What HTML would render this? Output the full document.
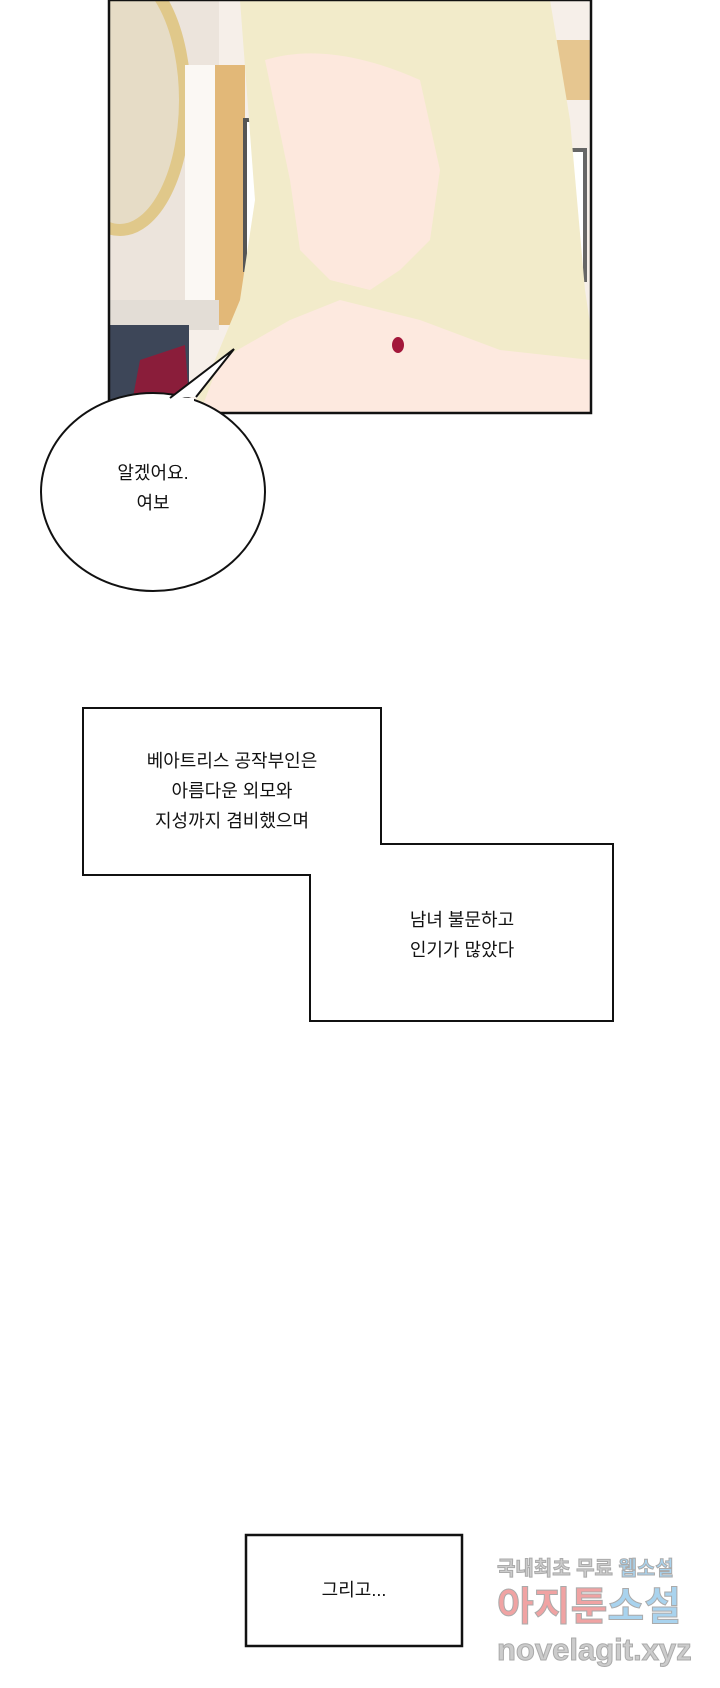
<!DOCTYPE html>
<html><head><meta charset="utf-8"><style>
body{margin:0;background:#fff;width:720px;height:1688px;position:relative;overflow:hidden;font-family:"Liberation Sans","Noto Sans CJK KR",sans-serif;}
.t{position:absolute;text-align:center;font-size:18px;color:#111;line-height:30px;}
</style></head><body>
<svg width="720" height="1688" style="position:absolute;left:0;top:0">
<defs><clipPath id="c"><rect x="109" y="0" width="482" height="413"/></clipPath></defs>
<g clip-path="url(#c)">
<rect x="109" y="0" width="482" height="413" fill="#f6efe9"/>
<rect x="109" y="0" width="110" height="300" fill="#ece4dc"/>
<ellipse cx="120" cy="100" rx="65" ry="130" fill="#e6dcc6" stroke="#e0c88a" stroke-width="12"/>
<rect x="185" y="65" width="60" height="260" fill="#fbf8f4"/>
<rect x="215" y="65" width="30" height="260" fill="#e2b878"/>
<rect x="245" y="120" width="50" height="150" fill="#fff" stroke="#555" stroke-width="4"/>
<rect x="480" y="40" width="111" height="60" fill="#e6c690"/>
<rect x="515" y="150" width="70" height="130" fill="#fff" stroke="#666" stroke-width="4"/>
<rect x="109" y="300" width="110" height="30" fill="#e3ddd6"/>
<rect x="109" y="325" width="80" height="88" fill="#3d4658"/>
<path d="M130 413 L140 360 L185 345 L190 413Z" fill="#8a1d3a"/>
<path d="M240 0 L550 0 L570 120 L585 290 L591 330 L591 413 L190 413 L215 360 L240 300 L255 200 Z" fill="#f2ebca"/>
<path d="M265 60 Q330 40 420 80 L440 170 L430 240 L400 270 L370 290 L330 280 L300 250 L290 180 Z" fill="#fde8dd"/>
<path d="M200 413 L220 360 L290 320 L340 300 L420 320 L500 350 L591 360 L591 413Z" fill="#fde9df"/>
<ellipse cx="398" cy="345" rx="6" ry="8" fill="#a3173a"/>
</g>
<rect x="109" y="0" width="482" height="413" fill="none" stroke="#111" stroke-width="2.5"/>
<ellipse cx="153" cy="492" rx="112" ry="99" fill="#fff" stroke="#111" stroke-width="2"/>
<path d="M170 398 L234 349 L196 397" fill="#fff" stroke="#111" stroke-width="2"/>
<path d="M172 400 L194 400" stroke="#fff" stroke-width="4"/>
<path d="M83 708 L381 708 L381 844 L613 844 L613 1021 L310 1021 L310 875 L83 875 Z" fill="#fff" stroke="#111" stroke-width="2"/>
<rect x="246" y="1535" width="216" height="111" fill="#fff" stroke="#111" stroke-width="2.5"/>
<g font-family="Liberation Sans, Noto Sans CJK KR, sans-serif" font-weight="bold" fill="#ccc" stroke="#aaa" stroke-width="1">
<text x="497" y="1575" font-size="20">국내최초 무료 <tspan fill="#a9d3ee">웹소설</tspan></text>
<text x="497" y="1620" font-size="40" fill="#f0a3a3">아지툰<tspan fill="#a9d3ee">소설</tspan></text>
<text x="497" y="1660" font-size="31">novelagit.xyz</text>
</g>
</svg>
<div class="t" style="left:53px;width:200px;top:458px">알겠어요.<br>여보</div>
<div class="t" style="left:100px;width:264px;top:746px">베아트리스 공작부인은<br>아름다운 외모와<br>지성까지 겸비했으며</div>
<div class="t" style="left:330px;width:264px;top:905px">남녀 불문하고<br>인기가 많았다</div>
<div class="t" style="left:246px;width:216px;top:1575px">그리고...</div>
</body></html>
